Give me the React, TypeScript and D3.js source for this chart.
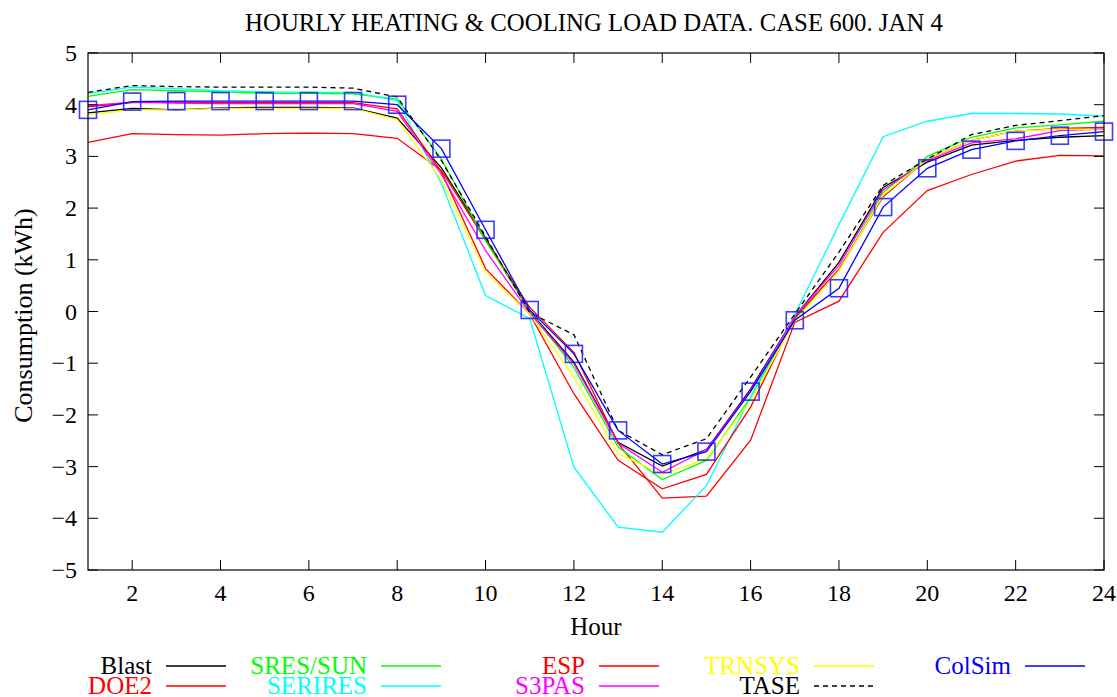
import React from "react";
import * as d3 from "d3";

const hours = d3.range(1, 25);
const xTicks = [2, 4, 6, 8, 10, 12, 14, 16, 18, 20, 22, 24];
const yTicks = [-5, -4, -3, -2, -1, 0, 1, 2, 3, 4, 5];

const blast = [3.84, 3.93, 3.9, 3.94, 3.95, 3.95, 3.94, 3.74, 2.78, 1.42, 0.0, -0.98, -2.53, -2.99, -2.67, -1.5, -0.1, 0.95, 2.4, 2.89, 3.22, 3.31, 3.37, 3.4];
const doe2 = [3.27, 3.44, 3.42, 3.41, 3.44, 3.45, 3.44, 3.35, 2.73, 1.38, 0.08, -0.79, -2.55, -3.61, -3.57, -2.49, -0.21, 0.2, 1.53, 2.34, 2.65, 2.91, 3.02, 3.01];
const sresSun = [4.16, 4.29, 4.27, 4.25, 4.22, 4.22, 4.21, 4.11, 2.95, 1.37, 0.0, -1.08, -2.62, -3.25, -2.88, -1.66, -0.15, 0.79, 2.3, 3.0, 3.37, 3.55, 3.61, 3.68];
const serires = [4.22, 4.34, 4.31, 4.27, 4.25, 4.24, 4.24, 4.08, 2.48, 0.31, -0.14, -3.01, -4.17, -4.27, -3.37, -1.65, -0.06, 1.68, 3.38, 3.68, 3.83, 3.83, 3.82, 3.78];
const esp = [3.96, 4.04, 4.05, 4.04, 4.04, 4.04, 4.04, 3.92, 2.7, 0.83, -0.05, -1.59, -2.88, -3.43, -3.15, -1.85, -0.12, 0.82, 2.22, 2.95, 3.31, 3.49, 3.54, 3.56];
const s3pas = [3.98, 4.05, 4.03, 4.02, 4.02, 4.02, 4.02, 3.87, 2.65, 1.18, -0.03, -1.01, -2.55, -3.11, -2.67, -1.53, -0.1, 0.89, 2.35, 2.92, 3.26, 3.34, 3.5, 3.53];
const trnsys = [3.81, 3.9, 3.9, 3.93, 3.93, 3.93, 3.93, 3.71, 2.55, 0.76, -0.05, -1.27, -2.75, -3.15, -2.85, -1.72, -0.18, 0.79, 2.25, 2.95, 3.31, 3.49, 3.53, 3.51];
const tase = [4.24, 4.37, 4.35, 4.34, 4.34, 4.34, 4.32, 4.15, 2.92, 1.45, -0.02, -0.45, -2.3, -2.77, -2.46, -1.27, -0.05, 1.15, 2.44, 2.95, 3.42, 3.6, 3.69, 3.79];
const colSim = [3.9, 4.06, 4.07, 4.07, 4.07, 4.07, 4.07, 4.0, 3.15, 1.58, 0.03, -0.82, -2.3, -2.95, -2.71, -1.55, -0.17, 0.45, 2.02, 2.77, 3.13, 3.3, 3.4, 3.48];

const seriesNames = ["Blast", "DOE2", "SRES/SUN", "SERIRES", "ESP", "S3PAS", "TRNSYS", "TASE", "ColSim"];
const seriesValues = [blast, doe2, sresSun, serires, esp, s3pas, trnsys, tase, colSim];
const seriesColors = ["#000000", "#ff0000", "#00ff00", "#00ffff", "#ff0000", "#ff00ff", "#ffff00", "#000000", "#0000ff"];
const seriesDash = [null, null, null, null, null, null, null, "5,4", null];

// legend layout: [column, row]
const legendSlots = [[0, 0], [0, 1], [1, 0], [1, 1], [2, 0], [2, 1], [3, 0], [3, 1], [4, 0]];
const legendTextRight = [152, 367, 585, 800, 1011];

const W = 1117, H = 697;
const L = 88, R = 1104, T = 53, B = 570;
const FONT = "'Liberation Serif', 'Times New Roman', serif";

export default function App() {
  const x = d3.scaleLinear().domain([1, 24]).range([L, R]);
  const y = d3.scaleLinear().domain([-5, 5]).range([B, T]);
  const line = d3.line<number>().x((_, i) => x(hours[i])).y((d) => y(d));
  const tick = 10;

  return (
    <svg width={W} height={H} style={{ position: "absolute", left: 0, top: 0, background: "#fff" }} fontFamily={FONT}>
      <text x={594} y={31} fontSize={24.8} textAnchor="middle">HOURLY HEATING &amp; COOLING LOAD DATA. CASE 600. JAN 4</text>

      {seriesValues.map((vals, i) => (
        <path key={seriesNames[i]} d={line(vals) || ""} fill="none" stroke={seriesColors[i]} strokeWidth={1.3}
          strokeDasharray={seriesDash[i] || undefined} />
      ))}
      {colSim.map((v, i) => (
        <rect key={"m" + i} x={x(hours[i]) - 8.5} y={y(v) - 8.5} width={17} height={17} fill="none" stroke="#1a1aff" strokeWidth={1.6} strokeOpacity={0.85} />
      ))}

      <rect x={L} y={T} width={R - L} height={B - T} fill="none" stroke="#000" strokeWidth={1.2} />
      {yTicks.map((t) => (
        <g key={"y" + t}>
          <line x1={L} x2={L + tick} y1={y(t)} y2={y(t)} stroke="#000" />
          <line x1={R} x2={R - tick} y1={y(t)} y2={y(t)} stroke="#000" />
          <text x={77} y={y(t) + 8} fontSize={24} textAnchor="end">{t < 0 ? "\u2212" + Math.abs(t) : String(t)}</text>
        </g>
      ))}
      {xTicks.map((t) => (
        <g key={"x" + t}>
          <line x1={x(t)} x2={x(t)} y1={B} y2={B - tick} stroke="#000" />
          <line x1={x(t)} x2={x(t)} y1={T} y2={T + tick} stroke="#000" />
          <text x={x(t)} y={601} fontSize={24} textAnchor="middle">{t}</text>
        </g>
      ))}
      <text x={596} y={635} fontSize={25} textAnchor="middle">Hour</text>
      <text transform={`translate(32,${(T + B) / 2 + 4}) rotate(-90)`} fontSize={26} textAnchor="middle">Consumption (kWh)</text>

      {seriesNames.map((name, i) => {
        const [c, r] = legendSlots[i];
        const tx = legendTextRight[c];
        const ly = 666 + r * 20;
        return (
          <g key={"lg" + i}>
            <text x={tx} y={ly + 8} fontSize={25} textAnchor="end" fill={seriesColors[i]}>{name}</text>
            <line x1={tx + 14} x2={tx + 74} y1={ly} y2={ly} stroke={seriesColors[i]} strokeWidth={1.3}
              strokeDasharray={seriesDash[i] || undefined} />
          </g>
        );
      })}
    </svg>
  );
}
